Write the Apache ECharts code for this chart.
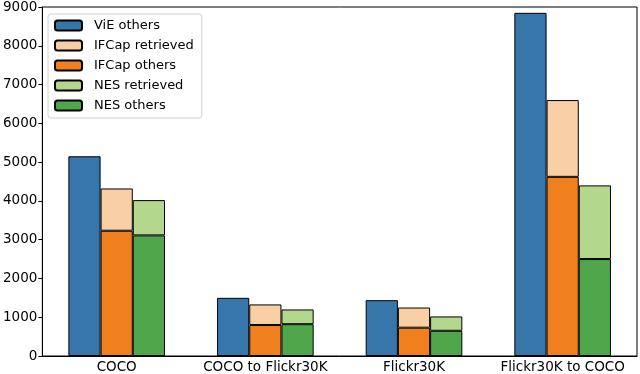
<!DOCTYPE html>
<html>
<head>
<meta charset="utf-8">
<script src="https://cdn.jsdelivr.net/npm/echarts@6/dist/echarts.min.js"></script>
<style>
  html, body { margin: 0; padding: 0; background: #fff; }
  #chart { width: 640px; height: 374px; }
</style>
</head>
<body>
<div id="chart"></div>
<script>
const categories = ['COCO', 'COCO to Flickr30K', 'Flickr30K', 'Flickr30K to COCO']

// values
const vieOthers = [5150, 1500, 1440, 8850]
const ifcapOthers = [3230, 800, 730, 4620]
const ifcapRetrieved = [1090, 530, 520, 1980] // stacked on top of others
const nesOthers = [3110, 820, 650, 2500]
const nesRetrieved = [910, 380, 370, 1900]

const legendOrder = ['ViE others', 'IFCap retrieved', 'IFCap others', 'NES retrieved', 'NES others']

const font = 'DejaVu Sans'

function bar(name, stack, data, color) {
  return {
    name: name,
    type: 'bar',
    stack: stack,
    data: data,
    barGap: '0%',
    barCategoryGap: '35%',
    itemStyle: { color: color, borderColor: '#000', borderWidth: 1 },
    emphasis: { disabled: true },
    animation: false
  }
}

const chart = echarts.init(document.getElementById('chart'))
chart.setOption({
  backgroundColor: '#fff',
  textStyle: { fontFamily: font },
  grid: {
    left: 41, right: 3, top: 7, bottom: 17,
    show: true, borderColor: '#000', borderWidth: 1, backgroundColor: 'transparent'
  },
  legend: {
    data: legendOrder,
    orient: 'vertical',
    left: 48,
    top: 14,
    padding: [5, 8, 6, 6],
    itemWidth: 27,
    itemHeight: 10,
    itemGap: 7,
    backgroundColor: '#fff',
    borderColor: '#d0d0d0',
    borderWidth: 1,
    borderRadius: 3,
    textStyle: { fontFamily: font, fontSize: 13, color: '#000', padding: [0, 0, 0, 7] }
  },
  xAxis: {
    type: 'category',
    data: categories,
    axisLine: { lineStyle: { color: '#000' } },
    axisTick: { alignWithLabel: true, length: 4, lineStyle: { color: '#000' } },
    axisLabel: { interval: 0, fontFamily: font, fontSize: 13.5, color: '#000', margin: 4 }
  },
  yAxis: {
    type: 'value',
    min: 0,
    max: 9000,
    interval: 1000,
    splitLine: { show: false },
    axisLine: { show: true, lineStyle: { color: '#000' } },
    axisTick: { show: true, length: 4, lineStyle: { color: '#000' } },
    axisLabel: {
      fontFamily: font, fontSize: 13.5, color: '#000', margin: 5,
      formatter: function(v) { return String(v) }
    }
  },
  series: [
    bar('ViE others', 'vie', vieOthers, '#3776ab'),
    bar('IFCap others', 'ifcap', ifcapOthers, '#f07f1e'),
    bar('IFCap retrieved', 'ifcap', ifcapRetrieved, '#f9cfa5'),
    bar('NES others', 'nes', nesOthers, '#4fa64b'),
    bar('NES retrieved', 'nes', nesRetrieved, '#b3d88d')
  ]
})
</script>
</body>
</html>
